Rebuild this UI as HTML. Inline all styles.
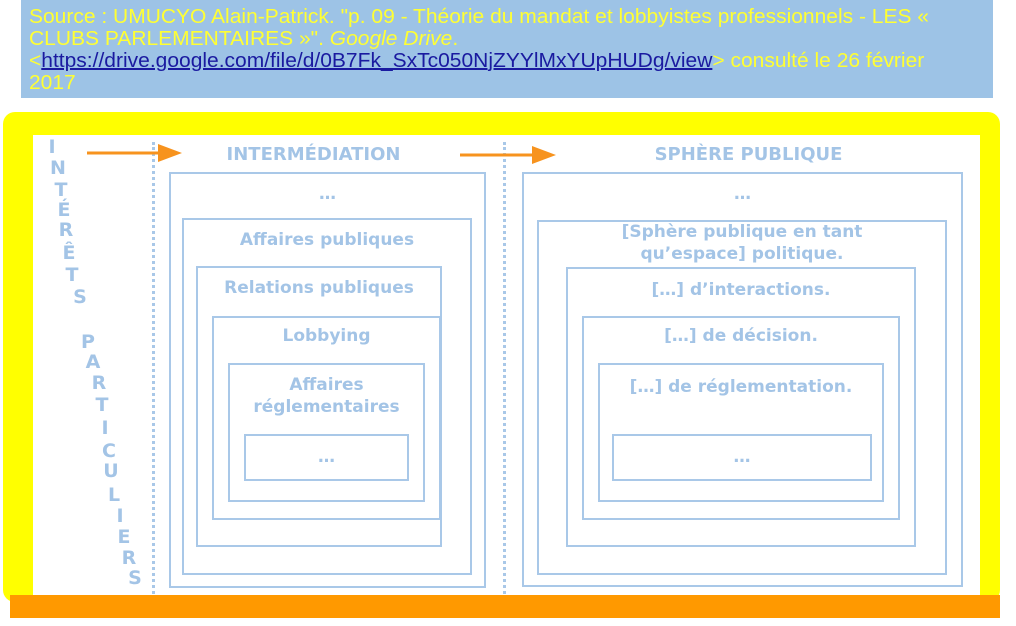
<!DOCTYPE html>
<html><head><meta charset="utf-8"><style>
body{margin:0;width:1016px;height:626px;background:#fff;position:relative;overflow:hidden;font-family:"DejaVu Sans","Liberation Sans",sans-serif}
.a{position:absolute}
.src{left:21px;top:0;width:972px;height:98px;background:#9dc3e6}
.src div{position:absolute;left:8px;white-space:nowrap;font-family:"Liberation Sans",sans-serif;font-size:20px;color:#ffff33;transform:scaleX(1.05);transform-origin:0 0}
.src a{color:#1a1aa0;text-decoration:underline}
.yel{left:3px;top:112px;width:997px;height:490px;background:#ffff00;border-radius:12px}
.wh{left:33px;top:135px;width:947px;height:460px;background:#fff}
.org{left:10px;top:595px;width:990px;height:23px;background:#ff9900}
.b{position:absolute;border:2px solid #a9c8e8;box-sizing:border-box}
.t{position:absolute;color:#a3c4e6;font-weight:bold;text-align:center;font-size:17px;line-height:22px}
.dot{position:absolute;width:3px;border-left:3px dotted #a9c8e8}
.l{position:absolute;width:20px;text-align:center;color:#a3c4e6;font-weight:bold;font-size:19px;line-height:20px}
</style></head><body>
<div class="a src">
<div style="top:6px">Source : UMUCYO Alain-Patrick. "p. 09 - Théorie du mandat et lobbyistes professionnels - LES «</div>
<div style="top:28px">CLUBS PARLEMENTAIRES »". <i>Google Drive</i>.</div>
<div style="top:50px">&lt;<a>https://drive.google.com/file/d/0B7Fk_SxTc050NjZYYlMxYUpHUDg/view</a>&gt; consulté le 26 février</div>
<div style="top:72px">2017</div>
</div>
<div class="a yel"></div>
<div class="a wh"></div>
<div class="a org"></div>
<div class="dot" style="left:152px;top:142px;height:452px"></div>
<div class="dot" style="left:503px;top:142px;height:452px"></div>
<svg class="a" style="left:0;top:0" width="1016" height="626">
<line x1="87" y1="153" x2="160" y2="153" stroke="#f7931e" stroke-width="3"/>
<polygon points="158,144 182,153 158,162" fill="#f7931e"/>
<line x1="460" y1="155" x2="535" y2="155" stroke="#f7931e" stroke-width="3"/>
<polygon points="532,146 556,155 532,164" fill="#f7931e"/>
</svg>
<div class="t" style="left:155px;width:317px;top:144px;font-size:18px">INTERMÉDIATION</div>
<div class="t" style="left:528px;width:441px;top:144px;font-size:18px">SPHÈRE PUBLIQUE</div>
<div class="b" style="left:169px;top:172px;width:317px;height:416px"></div>
<div class="b" style="left:182px;top:218px;width:290px;height:357px"></div>
<div class="b" style="left:196px;top:266px;width:246px;height:281px"></div>
<div class="b" style="left:212px;top:316px;width:229px;height:204px"></div>
<div class="b" style="left:228px;top:363px;width:197px;height:139px"></div>
<div class="b" style="left:244px;top:434px;width:165px;height:47px"></div>
<div class="t" style="left:169px;width:317px;top:183px">…</div>
<div class="t" style="left:182px;width:290px;top:229px">Affaires publiques</div>
<div class="t" style="left:196px;width:246px;top:277px">Relations publiques</div>
<div class="t" style="left:212px;width:229px;top:325px">Lobbying</div>
<div class="t" style="left:228px;width:197px;top:374px">Affaires<br>réglementaires</div>
<div class="t" style="left:244px;width:165px;top:446px">…</div>
<div class="b" style="left:522px;top:172px;width:441px;height:415px"></div>
<div class="b" style="left:537px;top:220px;width:410px;height:355px"></div>
<div class="b" style="left:566px;top:267px;width:350px;height:280px"></div>
<div class="b" style="left:582px;top:316px;width:318px;height:204px"></div>
<div class="b" style="left:598px;top:363px;width:286px;height:139px"></div>
<div class="b" style="left:612px;top:434px;width:260px;height:47px"></div>
<div class="t" style="left:522px;width:441px;top:183px">…</div>
<div class="t" style="left:537px;width:410px;top:221px">[Sphère publique en tant<br>qu’espace] politique.</div>
<div class="t" style="left:566px;width:350px;top:279px">[…] d’interactions.</div>
<div class="t" style="left:582px;width:318px;top:325px">[…] de décision.</div>
<div class="t" style="left:598px;width:286px;top:376px">[…] de réglementation.</div>
<div class="t" style="left:612px;width:260px;top:446px">…</div>
<div class="l" style="left:42px;top:137px">I</div>
<div class="l" style="left:48px;top:158px">N</div>
<div class="l" style="left:51px;top:180px">T</div>
<div class="l" style="left:54px;top:200px">É</div>
<div class="l" style="left:56px;top:220px">R</div>
<div class="l" style="left:59px;top:243px">Ê</div>
<div class="l" style="left:62px;top:265px">T</div>
<div class="l" style="left:70px;top:287px">S</div>
<div class="l" style="left:78px;top:332px">P</div>
<div class="l" style="left:83px;top:352px">A</div>
<div class="l" style="left:89px;top:373px">R</div>
<div class="l" style="left:92px;top:395px">T</div>
<div class="l" style="left:95px;top:418px">I</div>
<div class="l" style="left:99px;top:441px">C</div>
<div class="l" style="left:101px;top:461px">U</div>
<div class="l" style="left:104px;top:485px">L</div>
<div class="l" style="left:110px;top:506px">I</div>
<div class="l" style="left:114px;top:527px">E</div>
<div class="l" style="left:119px;top:548px">R</div>
<div class="l" style="left:125px;top:568px">S</div>
</body></html>
